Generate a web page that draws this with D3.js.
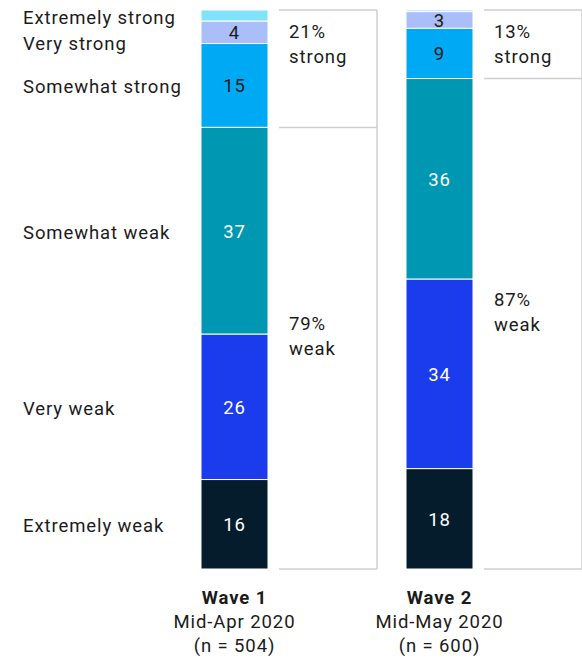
<!DOCTYPE html>
<html><head><meta charset="utf-8">
<script src="https://cdn.jsdelivr.net/npm/d3@7"></script>
<style>
html,body{margin:0;padding:0;background:#fff;}
svg{display:block;font-family:Roboto,"Liberation Sans",Arial,sans-serif;}
svg text{letter-spacing:0.9px;}
</style></head>
<body><svg id="chart" width="582" height="660"></svg>
<script>
const categories = ["Extremely strong","Very strong","Somewhat strong","Somewhat weak","Very weak","Extremely weak"];
const colors = ["#7fe3fa","#aabffa","#00a9f4","#0097b2","#1a3ced","#051c2c"];
const labelDark = [true,true,true,false,false,false];
const waves = ["Wave 1","Wave 2"];
const waveDates = ["Mid-Apr 2020","Mid-May 2020"];
const waveN = ["(n = 504)","(n = 600)"];
const wave1 = [2,4,15,37,26,16];
const wave2 = [0.3,3,9,36,34,18];
const showValue = [[false,true,true,true,true,true],[false,true,true,true,true,true]];
const groupLabels = [["21%","strong","79%","weak"],["13%","strong","87%","weak"]];
const series = [wave1, wave2];

const svg = d3.select("#chart");
const bw = 67;
const xPos = d3.scaleOrdinal().domain(waves).range([201, 406]);
const yTop = 10, yBottom = 569;
const textColor = "#1b1b1b";
const fs = 18.5;

series.forEach((vals, wi) => {
  const total = d3.sum(vals);
  const y = d3.scaleLinear().domain([0, total]).range([yTop, yBottom]);
  const stack = [];
  let acc = 0;
  vals.forEach((v, i) => { stack.push({i, v, y0: acc, y1: acc + v}); acc += v; });
  const g = svg.append("g");
  const x0 = xPos(waves[wi]);
  g.selectAll("rect").data(stack).join("rect")
    .attr("x", x0).attr("width", bw)
    .attr("y", d => y(d.y0)).attr("height", d => y(d.y1) - y(d.y0))
    .attr("fill", d => colors[d.i])
    .attr("stroke", "#fff").attr("stroke-width", 1);
  g.selectAll("text.val").data(stack.filter(d => showValue[wi][d.i])).join("text")
    .attr("class","val")
    .attr("x", x0 + bw/2).attr("y", d => (y(d.y0) + y(d.y1))/2 + 7)
    .attr("text-anchor","middle").attr("font-size", fs)
    .attr("fill", d => labelDark[d.i] ? textColor : "#fff")
    .text(d => d.v);

  const bx0 = x0 + bw + 11, bx1 = bx0 + 98;
  const mid = y(d3.sum(vals.slice(0,3)));
  const line = (xa, ya, xb, yb) => g.append("line").attr("x1",xa).attr("y1",ya).attr("x2",xb).attr("y2",yb)
      .attr("stroke","#cfcfcf").attr("stroke-width",1.5);
  line(bx0, yTop, bx1, yTop);
  line(bx0, mid, bx1, mid);
  line(bx0, yBottom, bx1, yBottom);
  line(bx1, yTop, bx1, yBottom);
  const gl = groupLabels[wi];
  const tx = bx0 + 10;
  const addT = (t, yy) => g.append("text").attr("x", tx).attr("y", yy).attr("font-size",fs).attr("fill",textColor).text(t);
  addT(gl[0], yTop + 28); addT(gl[1], yTop + 53);
  const wmid = (mid + yBottom)/2;
  addT(gl[2], wmid - 18); addT(gl[3], wmid + 7);

  const cx = x0 + bw/2;
  g.append("text").attr("x",cx).attr("y",604).attr("text-anchor","middle").attr("font-size",fs).attr("font-weight","bold").attr("fill",textColor).text(waves[wi]);
  g.append("text").attr("x",cx).attr("y",628).attr("text-anchor","middle").attr("font-size",fs).attr("fill",textColor).text(waveDates[wi]);
  g.append("text").attr("x",cx).attr("y",652).attr("text-anchor","middle").attr("font-size",fs).attr("fill",textColor).text(waveN[wi]);

  if (wi === 0) {
    let prev = -Infinity;
    const pos = stack.map(d => {
      let b = (y(d.y0) + y(d.y1))/2 + 8;
      b = Math.max(b, prev + 26);
      prev = b;
      return b;
    });
    svg.append("g").selectAll("text").data(categories).join("text")
      .attr("x", 23).attr("y", (d,i) => pos[i])
      .attr("font-size", fs).attr("fill", textColor).text(d => d);
  }
});
</script></body></html>
